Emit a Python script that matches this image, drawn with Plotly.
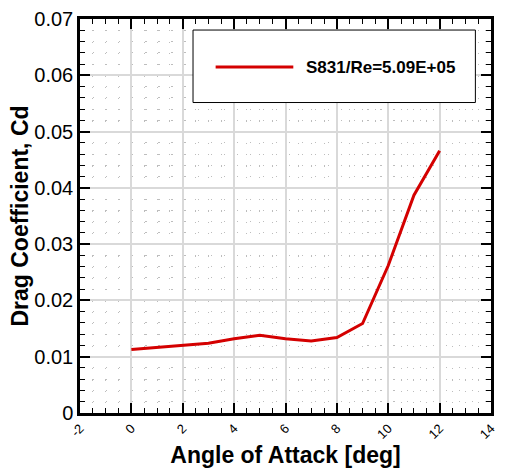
import plotly.graph_objects as go

aoa = [0, 1, 2, 3, 4, 5, 6, 7, 8, 9, 10, 11, 12]
cd = [0.0113, 0.0117, 0.0121, 0.0124, 0.0132, 0.0138, 0.0132, 0.0128, 0.0134, 0.0159, 0.0262, 0.0387, 0.0466]
series_name = "S831/Re=5.09E+05"
x_ticks = [-2, 0, 2, 4, 6, 8, 10, 12, 14]
y_ticks = [0, 0.01, 0.02, 0.03, 0.04, 0.05, 0.06, 0.07]
y_labels = ["0", "0.01", "0.02", "0.03", "0.04", "0.05", "0.06", "0.07"]

fig = go.Figure()
fig.add_trace(go.Scatter(x=aoa, y=cd, mode="lines", name=series_name,
                         line=dict(color="#d40000", width=3), showlegend=False))

# legend box drawn manually
fig.add_shape(type="rect", xref="paper", yref="paper", x0=0.275, x1=0.962, y0=0.788, y1=0.972,
              line=dict(color="black", width=1), fillcolor="white", layer="above")
fig.add_shape(type="line", xref="paper", yref="paper", x0=0.330, x1=0.519, y0=0.878, y1=0.878,
              line=dict(color="#d40000", width=3), layer="above")
fig.add_annotation(xref="paper", yref="paper", x=0.545, y=0.878, xanchor="left", yanchor="middle",
                   text="<b>" + series_name + "</b>", showarrow=False,
                   font=dict(family="Liberation Sans, Arial", size=17, color="black"))

fig.update_xaxes(range=[-2, 14], tickvals=x_ticks, ticktext=[str(v) for v in x_ticks],
                 tickangle=-45, ticks="inside", ticklen=10, tickwidth=2, tickcolor="black",
                 showline=True, linewidth=2.5, linecolor="black", mirror="ticks",
                 showgrid=True, gridcolor="#d9d9d9", gridwidth=1.5, zeroline=False,
                 minor=dict(dtick=0.5, ticks="inside", ticklen=5, tickwidth=1, tickcolor="black",
                            showgrid=True, gridcolor="#bdbdbd", griddash="1.2px,10.06px", gridwidth=1.2),
                 tickfont=dict(family="Liberation Sans, Arial", size=13, color="black"),
                 title=dict(text="<b>Angle of Attack [deg]</b>", standoff=6,
                            font=dict(family="Liberation Sans, Arial", size=23, color="black")))
fig.update_yaxes(range=[0, 0.07], tickvals=y_ticks, ticktext=y_labels,
                 ticks="inside", ticklen=10, tickwidth=2, tickcolor="black",
                 showline=True, linewidth=2.5, linecolor="black", mirror="ticks",
                 showgrid=True, gridcolor="#d9d9d9", gridwidth=1.5, zeroline=False,
                 minor=dict(dtick=0.002, ticks="inside", ticklen=5, tickwidth=1, tickcolor="black",
                            showgrid=True, gridcolor="#bdbdbd", griddash="1.2px,11.86px", gridwidth=1.2),
                 tickfont=dict(family="Liberation Sans, Arial", size=20, color="black"),
                 title=dict(text="<b>Drag Coefficient, Cd</b>", standoff=0,
                            font=dict(family="Liberation Sans, Arial", size=23, color="black")))

fig.update_layout(width=505, height=474, margin=dict(l=80, r=7, t=19, b=61),
                  plot_bgcolor="white", paper_bgcolor="white")
fig.write_html("out.html")
